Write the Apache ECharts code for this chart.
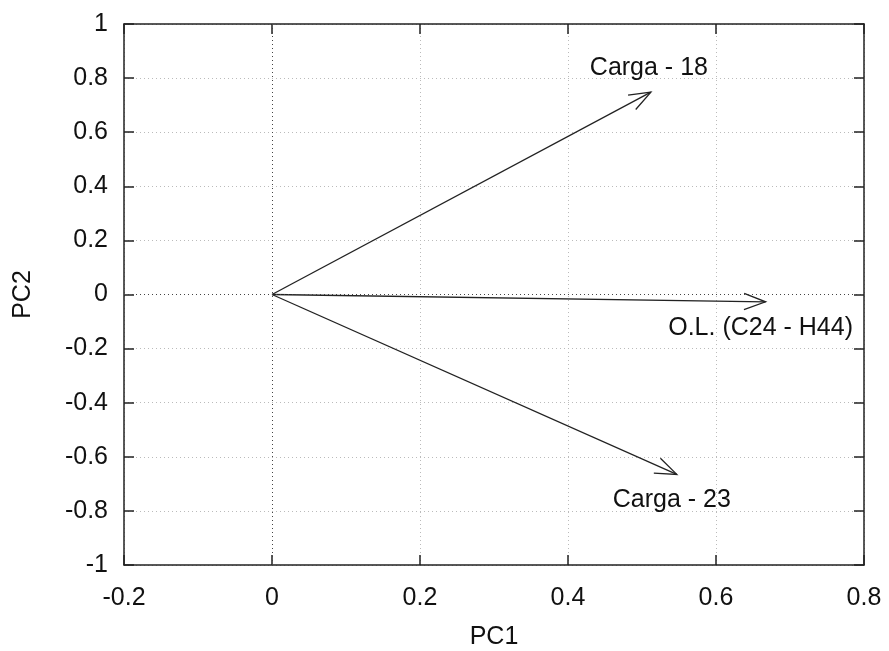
<!DOCTYPE html>
<html>
<head>
<meta charset="utf-8">
<title>PCA</title>
<script src="https://cdn.jsdelivr.net/npm/echarts@6/dist/echarts.min.js"></script>
<style>
  html, body { margin: 0; padding: 0; background: #fff; }
  #chart { width: 889px; height: 651px; }
</style>
</head>
<body>
<div id="chart"></div>
<script>
// loadings (PC1, PC2)
var names = ['Carga - 18', 'O.L. (C24 - H44)', 'Carga - 23']
var pc1 = [0.512, 0.667, 0.547]
var pc2 = [0.748, -0.027, -0.665]
var labelSide = ['top', 'bottom', 'bottom']

var xTicks = { min: -0.2, max: 0.8, step: 0.2 }
var yTicks = { min: -1, max: 1, step: 0.2 }

var font = 'Liberation Sans, Arial, sans-serif'
var ink = '#111'
var fs = 25

function fmt(v) {
  var s = (+v.toFixed(1)).toString()
  return s === '-0' ? '0' : s
}

var myChart = echarts.init(document.getElementById('chart'))

var axisLine = { show: true, onZero: false, lineStyle: { color: '#222', width: 1.5 } }
var tick = { show: true, inside: true, length: 10, lineStyle: { color: '#222', width: 1.5 } }
var grid = { show: true, lineStyle: { color: '#bbb', type: [1, 3], width: 1 } }

var option = {
  animation: false,
  backgroundColor: '#fff',
  grid: { left: 124, right: 25, top: 24, bottom: 86, containLabel: false, outerBoundsMode: 'none' },
  xAxis: [
    {
      type: 'value', position: 'bottom',
      min: xTicks.min, max: xTicks.max, interval: xTicks.step,
      name: 'PC1', nameLocation: 'middle', nameGap: 60,
      nameTextStyle: { fontFamily: font, fontSize: fs, color: ink },
      axisLine: axisLine, axisTick: tick, splitLine: grid,
      axisLabel: { formatter: fmt, margin: 21, fontFamily: font, fontSize: fs, color: ink }
    },
    {
      type: 'value', position: 'top',
      min: xTicks.min, max: xTicks.max, interval: xTicks.step,
      axisLine: axisLine, axisTick: tick, splitLine: { show: false },
      axisLabel: { show: false }
    }
  ],
  yAxis: [
    {
      type: 'value', position: 'left',
      min: yTicks.min, max: yTicks.max, interval: yTicks.step,
      name: 'PC2', nameLocation: 'middle', nameGap: 88,
      nameTextStyle: { fontFamily: font, fontSize: fs, color: ink },
      axisLine: axisLine, axisTick: tick, splitLine: grid,
      axisLabel: { formatter: fmt, margin: 16, fontFamily: font, fontSize: fs, color: ink }
    },
    {
      type: 'value', position: 'right',
      min: yTicks.min, max: yTicks.max, interval: yTicks.step,
      axisLine: axisLine, axisTick: tick, splitLine: { show: false },
      axisLabel: { show: false }
    }
  ],
  series: [
    {
      // zero axes
      type: 'line',
      data: [],
      markLine: {
        silent: true,
        symbol: 'none',
        label: { show: false },
        lineStyle: { color: '#444', type: [1, 3], width: 1 },
        data: [{ xAxis: 0 }, { yAxis: 0 }]
      }
    },
    {
      type: 'custom',
      data: names.map(function (n, i) { return [pc1[i], pc2[i], i] }),
      renderItem: function (params, api) {
        var i = api.value(2)
        var s = api.coord([0, 0])
        var e = api.coord([api.value(0), api.value(1)])
        var ang = Math.atan2(e[1] - s[1], e[0] - s[0])
        var L = 23, a = 0.36
        var p1 = [e[0] - L * Math.cos(ang - a), e[1] - L * Math.sin(ang - a)]
        var p2 = [e[0] - L * Math.cos(ang + a), e[1] - L * Math.sin(ang + a)]
        var up = labelSide[i] === 'top'
        var stroke = { stroke: '#222', lineWidth: 1.3, fill: null }
        return {
          type: 'group',
          children: [
            { type: 'line', shape: { x1: s[0], y1: s[1], x2: e[0], y2: e[1] }, style: stroke },
            { type: 'polyline', shape: { points: [p1, e, p2] }, style: stroke },
            {
              type: 'text',
              style: {
                text: names[i],
                x: up ? e[0] - 2 : e[0] - 5,
                y: up ? e[1] - 24 : e[1] + 26,
                align: 'center', verticalAlign: 'middle',
                font: fs + 'px ' + font, fill: ink
              }
            }
          ]
        }
      }
    }
  ]
}

myChart.setOption(option)
window.addEventListener('resize', () => { myChart.resize() })
</script>
</body>
</html>
